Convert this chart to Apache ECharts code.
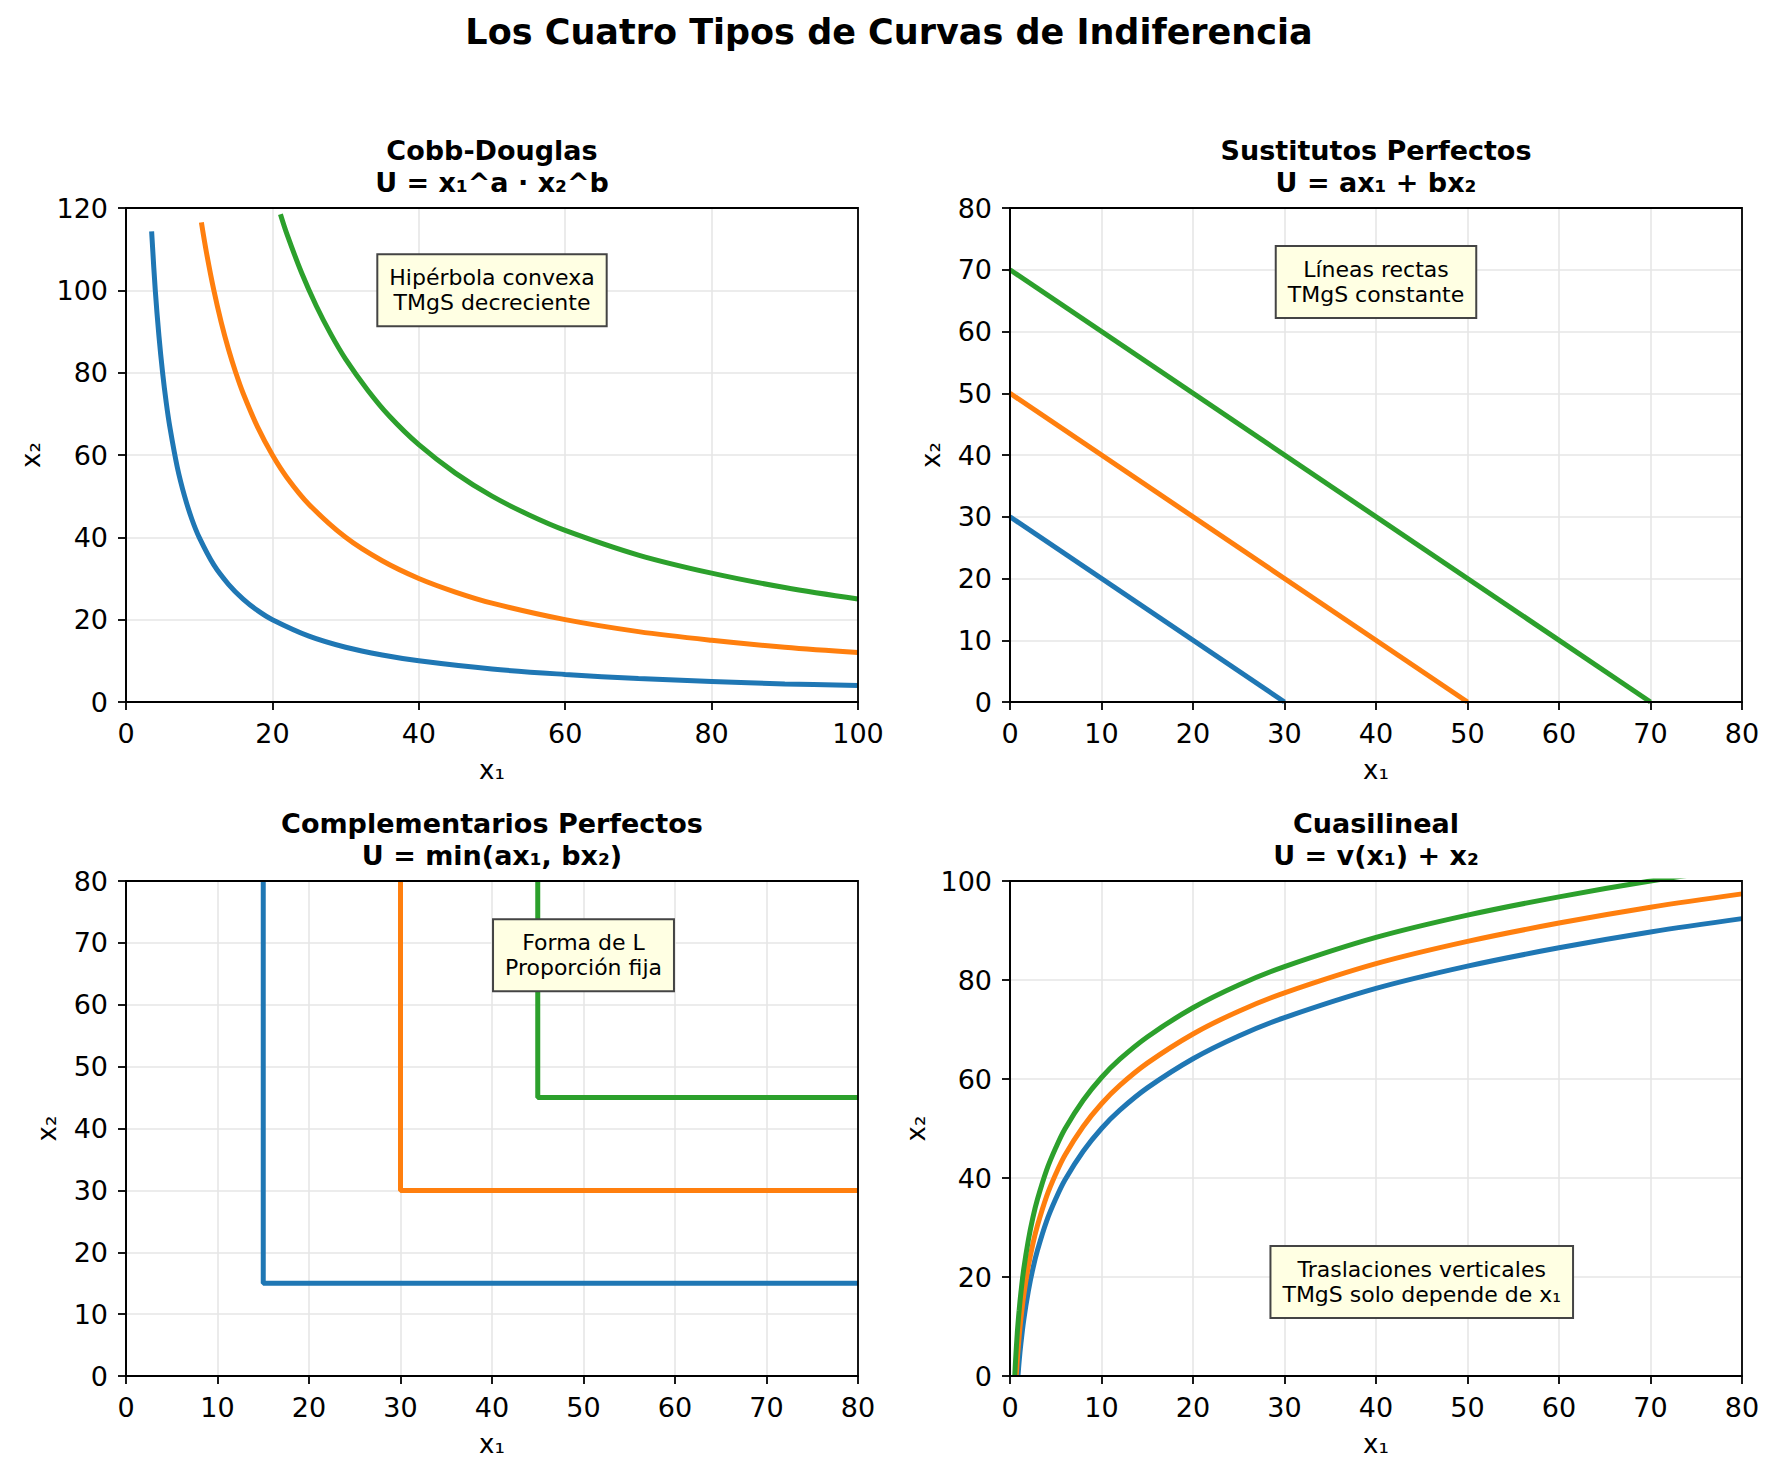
<!DOCTYPE html>
<html>
<head>
<meta charset="utf-8">
<title>Los Cuatro Tipos de Curvas de Indiferencia</title>
<script src="https://cdn.jsdelivr.net/npm/echarts@6/dist/echarts.min.js"></script>
<style>
  html, body { margin: 0; padding: 0; background: #fff; }
  #chart { width: 1778px; height: 1477px; }
</style>
</head>
<body>
<div id="chart"></div>
<script>
// --- data ---
const cdBlueX = [3.5, 4, 4.5, 5, 5.5, 6, 7, 8, 9, 10, 12, 14, 16, 18, 20, 25, 30, 35, 40, 50, 60, 70, 80, 90, 100];
const cdBlueY = [114.3, 100, 88.9, 80, 72.7, 66.7, 57.1, 50, 44.4, 40, 33.3, 28.6, 25, 22.2, 20, 16, 13.3, 11.4, 10, 8, 6.7, 5.7, 5, 4.4, 4];
const cdOrangeX = [10.3, 11, 12, 13, 14, 15, 16, 18, 20, 22, 25, 30, 35, 40, 45, 50, 60, 70, 80, 90, 100];
const cdOrangeY = [116.5, 109.1, 100, 92.3, 85.7, 80, 75, 66.7, 60, 54.5, 48, 40, 34.3, 30, 26.7, 24, 20, 17.1, 15, 13.3, 12];
const cdGreenX = [21.1, 22, 24, 26, 28, 30, 33, 36, 40, 45, 50, 55, 60, 70, 80, 90, 100];
const cdGreenY = [118.5, 113.6, 104.2, 96.2, 89.3, 83.3, 75.8, 69.4, 62.5, 55.6, 50, 45.5, 41.7, 35.7, 31.3, 27.8, 25];

const subX = [[0, 30], [0, 50], [0, 70]];
const subY = [[30, 0], [50, 0], [70, 0]];

const compX = [[15, 15, 80], [30, 30, 80], [45, 45, 80]];
const compY = [[80, 15, 15], [80, 30, 30], [80, 45, 45]];

const qlBlueX = [0.87, 1, 1.2, 1.5, 2, 2.5, 3, 4, 5, 6, 8, 10, 12, 15, 20, 25, 30, 40, 50, 60, 70, 80];
const qlBlueY = [0, 3, 6.7, 11.3, 17.1, 21.7, 25.4, 31.3, 35.8, 39.6, 45.4, 50, 53.7, 58.2, 64.1, 68.7, 72.4, 78.3, 82.8, 86.5, 89.7, 92.4];
const qlOrangeX = [0.68, 0.8, 1, 1.2, 1.5, 2, 2.5, 3, 4, 5, 6, 8, 10, 12, 15, 20, 25, 30, 40, 50, 60, 70, 80];
const qlOrangeY = [0, 3.4, 8, 11.7, 16.3, 22.1, 26.7, 30.4, 36.3, 40.8, 44.6, 50.4, 55, 58.7, 63.2, 69.1, 73.7, 77.4, 83.3, 87.8, 91.5, 94.7, 97.4];
const qlGreenX = [0.52, 0.6, 0.8, 1, 1.2, 1.5, 2, 2.5, 3, 4, 5, 6, 8, 10, 12, 15, 20, 25, 30, 40, 50, 60, 70, 80];
const qlGreenY = [0, 2.9, 8.8, 13.3, 17, 21.6, 27.4, 32, 35.7, 41.6, 46.1, 49.9, 55.7, 60.3, 64, 68.5, 74.4, 79, 82.7, 88.6, 93.1, 96.8, 100, 102.7];

const panelTitles = [
  'Cobb-Douglas\nU = x₁^a · x₂^b',
  'Sustitutos Perfectos\nU = ax₁ + bx₂',
  'Complementarios Perfectos\nU = min(ax₁, bx₂)',
  'Cuasilineal\nU = v(x₁) + x₂'
];
const notes = [
  'Hipérbola convexa\nTMgS decreciente',
  'Líneas rectas\nTMgS constante',
  'Forma de L\nProporción fija',
  'Traslaciones verticales\nTMgS solo depende de x₁'
];

const colors = ['#1f77b4', '#ff7f0e', '#2ca02c'];
const FONT = 'DejaVu Sans';

function pairs(xs, ys) {
  return xs.map((x, i) => [x, ys[i]]);
}

const grids = [
  { left: 126, top: 208, width: 732, height: 494 },
  { left: 1010, top: 208, width: 732, height: 494 },
  { left: 126, top: 881, width: 732, height: 495 },
  { left: 1010, top: 881, width: 732, height: 495 }
];

const xRanges = [[0, 100, 20], [0, 80, 10], [0, 80, 10], [0, 80, 10]];
const yRanges = [[0, 120, 20], [0, 80, 10], [0, 80, 10], [0, 100, 20]];
const yNameGaps = [82, 66, 66, 81];

function axisBase() {
  return {
    type: 'value',
    axisLine: { show: true, onZero: false, lineStyle: { color: '#000', width: 1.8 } },
    axisTick: { show: true, length: 8, lineStyle: { color: '#000', width: 1.8 } },
    axisLabel: { color: '#000', fontSize: 27, fontFamily: FONT, margin: 18 },
    splitLine: { show: true, lineStyle: { color: '#e6e6e6', width: 1.6 } },
    nameLocation: 'middle',
    nameTextStyle: { color: '#000', fontSize: 26, fontFamily: FONT }
  };
}

const xAxes = xRanges.map((r, i) => Object.assign(axisBase(), {
  gridIndex: i, min: r[0], max: r[1], interval: r[2],
  name: 'x₁', nameGap: 55
}));
const yAxes = yRanges.map((r, i) => Object.assign(axisBase(), {
  gridIndex: i, min: r[0], max: r[1], interval: r[2],
  name: 'x₂', nameGap: yNameGaps[i], nameRotate: 90
}));

function lineSeries(idx, data, color, smooth) {
  return {
    type: 'line',
    xAxisIndex: idx,
    yAxisIndex: idx,
    data: data,
    showSymbol: false,
    symbol: 'none',
    smooth: smooth ? 0.35 : false,
    lineStyle: { color: color, width: 5 },
    itemStyle: { color: color },
    clip: true,
    animation: false,
    z: 3
  };
}

const series = [
  lineSeries(0, pairs(cdBlueX, cdBlueY), colors[0], true),
  lineSeries(0, pairs(cdOrangeX, cdOrangeY), colors[1], true),
  lineSeries(0, pairs(cdGreenX, cdGreenY), colors[2], true)
];
subX.forEach((xs, k) => series.push(lineSeries(1, pairs(xs, subY[k]), colors[k], false)));
compX.forEach((xs, k) => series.push(lineSeries(2, pairs(xs, compY[k]), colors[k], false)));
series.push(lineSeries(3, pairs(qlBlueX, qlBlueY), colors[0], true));
series.push(lineSeries(3, pairs(qlOrangeX, qlOrangeY), colors[1], true));
series.push(lineSeries(3, pairs(qlGreenX, qlGreenY), colors[2], true));

const titles = [{
  text: 'Los Cuatro Tipos de Curvas de Indiferencia',
  left: 'center',
  top: 14,
  padding: 0,
  textStyle: { fontSize: 35, fontWeight: 'bold', fontFamily: FONT, color: '#000' }
}];
panelTitles.forEach((t, i) => {
  titles.push({
    text: t,
    left: grids[i].left + grids[i].width / 2,
    top: grids[i].top - 74,
    textAlign: 'center',
    padding: 0,
    textStyle: { fontSize: 27, fontWeight: 'bold', fontFamily: FONT, color: '#000', lineHeight: 32 }
  });
});

const chart = echarts.init(document.getElementById('chart'), null, { renderer: 'svg' });
chart.setOption({
  backgroundColor: '#fff',
  animation: false,
  title: titles,
  grid: grids.map(g => Object.assign({
    show: true, z: 5, backgroundColor: 'transparent',
    borderColor: '#000', borderWidth: 1.8, containLabel: false
  }, g)),
  xAxis: xAxes,
  yAxis: yAxes,
  series: series
});

// annotation boxes, anchored in data coordinates of each panel
const noteAnchors = [[50, 100], [40, 68], [50, 68], [45, 19]];
const graphics = notes.map((txt, i) => {
  const p = chart.convertToPixel({ gridIndex: i }, noteAnchors[i]);
  return {
    type: 'text',
    x: p[0],
    y: p[1],
    z: 10,
    style: {
      text: txt,
      align: 'center',
      verticalAlign: 'middle',
      fontSize: 22,
      fontFamily: FONT,
      lineHeight: 25,
      fill: '#000',
      backgroundColor: '#ffffe3',
      borderColor: '#444',
      borderWidth: 2,
      padding: [10, 11]
    }
  };
});
chart.setOption({ graphic: graphics });
</script>
</body>
</html>
